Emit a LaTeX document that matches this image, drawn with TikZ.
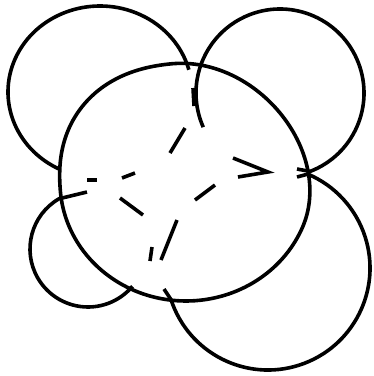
\documentclass[tikz,border=0pt]{standalone}
\usetikzlibrary{calc}
\begin{document}
\begin{tikzpicture}[x=1pt,y=-1pt,
  ring/.style={line width=3.6pt,line join=round},
  dashpiece/.style={line width=3.6pt},
  declare function={bp(\u)=max(0,1-\u*\u)*max(0,1-\u*\u);
    gg(\t)=1+0.04*bp((\t-220)/45)-0.055*bp((\t-322)/60);}]
\useasboundingbox (0,0) rectangle (374,376);
% centres of the shapes
\coordinate (tl) at (100,92);
\coordinate (tr) at (280,93);
\coordinate (bl) at (88,249);
\coordinate (br) at (268,268);
% top-left shape
\draw[ring] (tl) ++(116:92 and 86) arc[start angle=116,end angle=345,x radius=92,y radius=86];
% top-right shape
\coordinate (trstub) at (297,169);
\draw[ring] (trstub) -- ($(tr)+(69:84)$) arc[start angle=69,end angle=-204,radius=84];
% bottom-left shape
\coordinate (blstub) at (87,192);
\draw[ring] (blstub) -- ($(bl)+(240:58)$) arc[start angle=240,end angle=40,radius=58];
% bottom-right shape
\coordinate (brstubA) at (164,289);
\coordinate (brstubB) at (297,177);
\draw[ring] (brstubA) -- ($(br)+(162:102)$) arc[start angle=162,end angle=-67,radius=102] -- (brstubB);
% central shape
\draw[ring] plot[smooth cycle,domain=130:486,samples=90,variable=\t]
  ({186+126*cos(\t)*gg(\t)},{182+119*sin(\t)*gg(\t)});
% inner pieces
\draw[dashpiece] (193,88) -- (194,106);
\draw[dashpiece] (170,153) -- (185,128);
\draw[dashpiece] (87,180) -- (97,180);
\draw[dashpiece] (122,178) -- (135,173);
\draw[dashpiece] (120,198) -- (143,215);
\draw[dashpiece] (195,200) -- (215,185);
\draw[dashpiece] (177,220) -- (161,260);
\draw[dashpiece] (152,247) -- (150,261);
\draw[dashpiece,line join=miter] (233,158) -- (268,172) -- (238,177);
\end{tikzpicture}
\end{document}
